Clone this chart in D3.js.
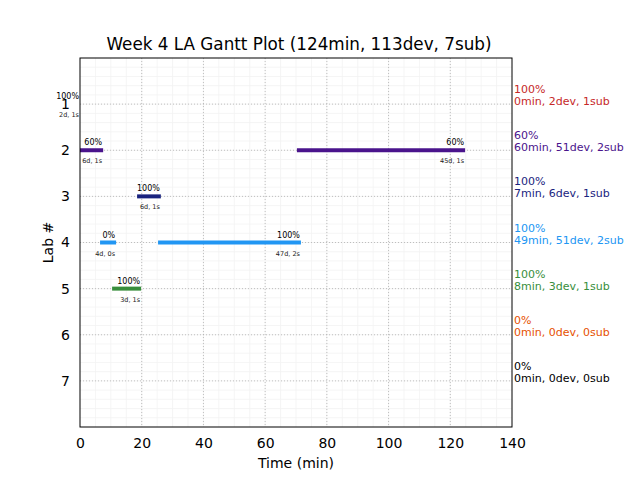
<!DOCTYPE html>
<html><head><meta charset="utf-8">
<script src="https://cdn.jsdelivr.net/npm/d3@7"></script>
<style>body{margin:0;background:#fff}svg{display:block;font-family:"DejaVu Sans",sans-serif}</style>
</head><body><svg id="c" width="640" height="480"></svg>
<script>
const title = "Week 4 LA Gantt Plot (124min, 113dev, 7sub)";
const labs = [1,2,3,4,5,6,7];
const labColors = ["#c62828","#4a148c","#1a237e","#2196f3","#388e3c","#e65100","#000000"];
const summaryPct = ["100%","60%","100%","100%","100%","0%","0%"];
const summaryMin = [0,60,7,49,8,0,0];
const summaryDev = [2,51,6,51,3,0,0];
const summarySub = [1,2,1,2,1,0,0];
// segments
const segLab   = [1,2,2,3,4,4,5];
const segStart = [0,0,70.3,18.5,6.5,25.3,10.4];
const segEnd   = [0,7.5,124.8,26.2,11.7,71.6,19.8];
const segPct   = ["100%","60%","60%","100%","0%","100%","100%"];
const segDev   = [2,6,45,6,4,47,3];
const segSub   = [1,1,1,1,0,2,1];
const xTicks = [0,20,40,60,80,100,120,140];

const svg = d3.select("#c");
const L=80,R=512,T=58,B=427;
const x = d3.scaleLinear().domain([0,140]).range([L,R]);
const y = d3.scaleLinear().domain([0,8]).range([T,B]);

// minor grid
const g = svg.append("g");
g.selectAll(".mx").data(d3.range(5,140,5)).join("line")
 .attr("x1",d=>x(d)).attr("x2",d=>x(d)).attr("y1",T).attr("y2",B)
 .attr("stroke","#f2f2f2").attr("stroke-width",0.8);
g.selectAll(".my").data(d3.range(1,40).map(i=>i*0.2)).join("line")
 .attr("y1",d=>y(d)).attr("y2",d=>y(d)).attr("x1",L).attr("x2",R)
 .attr("stroke","#f2f2f2").attr("stroke-width",0.8);
// major grid
g.selectAll(".Mx").data(xTicks.slice(1,-1)).join("line")
 .attr("x1",d=>x(d)).attr("x2",d=>x(d)).attr("y1",T).attr("y2",B)
 .attr("stroke","#b0b0b0").attr("stroke-width",0.8).attr("stroke-dasharray","1,2");
g.selectAll(".My").data(labs).join("line")
 .attr("y1",d=>y(d)).attr("y2",d=>y(d)).attr("x1",L).attr("x2",R)
 .attr("stroke","#b0b0b0").attr("stroke-width",0.8).attr("stroke-dasharray","1,2");

// bars
const segs = segLab.map((l,i)=>({l,s:segStart[i],e:segEnd[i],p:segPct[i],d:segDev[i],u:segSub[i]}));
svg.append("g").selectAll("line").data(segs).join("line")
 .attr("x1",d=>x(d.s)).attr("x2",d=>x(d.e)).attr("y1",d=>y(d.l)).attr("y2",d=>y(d.l))
 .attr("stroke",d=>labColors[d.l-1]).attr("stroke-width",d=>d.e>d.s?4:0);
svg.append("g").selectAll("text").data(segs).join("text")
 .attr("x",d=>x(d.e)-1).attr("y",d=>y(d.l)-5).attr("text-anchor","end")
 .attr("font-size",8).attr("fill","#000").text(d=>d.p);
svg.append("g").selectAll("text").data(segs).join("text")
 .attr("x",d=>x(d.e)-1).attr("y",d=>y(d.l)+13).attr("text-anchor","end")
 .attr("font-size",6.5).attr("fill","#222").text(d=>`${d.d}d, ${d.u}s`);

// frame
svg.append("rect").attr("x",L).attr("y",T).attr("width",R-L).attr("height",B-T)
 .attr("fill","none").attr("stroke","#000").attr("stroke-width",1);

// axes
const xa = svg.append("g").attr("transform",`translate(0,${B})`)
 .call(d3.axisBottom(x).tickValues(xTicks).tickSize(0).tickPadding(11));
xa.select(".domain").remove();
xa.selectAll("text").attr("font-size",14).attr("font-family","DejaVu Sans").attr("fill","#000");
const ya = svg.append("g").attr("transform",`translate(${L},0)`)
 .call(d3.axisLeft(y).tickValues(labs).tickSize(0).tickPadding(10));
ya.select(".domain").remove();
ya.selectAll("text").attr("font-size",14).attr("font-family","DejaVu Sans").attr("fill","#000");

// labels
svg.append("text").attr("x",299).attr("y",50).attr("text-anchor","middle")
 .attr("font-size",16.8).text(title);
svg.append("text").attr("x",(L+R)/2).attr("y",468).attr("text-anchor","middle")
 .attr("font-size",14).text("Time (min)");
svg.append("text").attr("transform",`translate(53,${(T+B)/2}) rotate(-90)`).attr("text-anchor","middle")
 .attr("font-size",14).text("Lab #");

// right summary
const rg = svg.append("g");
labs.forEach((l,i)=>{
  rg.append("text").attr("x",514).attr("y",y(l)-11).attr("font-size",11).attr("fill",labColors[i]).text(summaryPct[i]);
  rg.append("text").attr("x",514).attr("y",y(l)+1).attr("font-size",11).attr("fill",labColors[i])
    .text(`${summaryMin[i]}min, ${summaryDev[i]}dev, ${summarySub[i]}sub`);
});
</script></body></html>
